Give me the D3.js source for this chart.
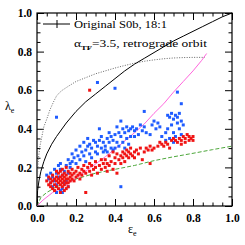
<!DOCTYPE html>
<html>
<head>
<meta charset="utf-8">
<script src="https://cdn.jsdelivr.net/npm/d3@7"></script>
<style>
  body { margin: 0; background: #fff; }
  svg { display: block; }
</style>
</head>
<body>
<div id="chart"></div>
<script>
'use strict';

// epsilon_e, lambda_e
var blue_pts = [
  [0.05,0.16],[0.06,0.14],[0.07,0.12],[0.08,0.15],[0.08,0.10],[0.09,0.13],[0.10,0.17],[0.10,0.11],
  [0.11,0.15],[0.11,0.21],[0.12,0.19],[0.12,0.22],[0.13,0.16],[0.13,0.09],[0.13,0.07],[0.14,0.12],
  [0.14,0.18],[0.15,0.21],[0.15,0.13],[0.16,0.10],[0.16,0.17],[0.17,0.20],[0.09,0.19],[0.07,0.17],
  [0.12,0.08],[0.10,0.07],
  [0.16,0.24],[0.17,0.22],[0.18,0.27],[0.18,0.23],[0.19,0.25],[0.20,0.29],[0.20,0.22],[0.21,0.26],
  [0.22,0.31],[0.22,0.24],[0.23,0.28],[0.24,0.33],[0.24,0.26],[0.25,0.29],[0.25,0.23],[0.26,0.35],
  [0.26,0.31],[0.27,0.27],[0.27,0.32],[0.28,0.30],[0.28,0.25],[0.29,0.34],[0.30,0.33],[0.30,0.28],
  [0.31,0.31],[0.31,0.27],[0.32,0.34],[0.32,0.40],[0.33,0.30],[0.33,0.36],[0.34,0.28],[0.34,0.33],
  [0.35,0.31],[0.35,0.29],[0.36,0.35],[0.36,0.28],[0.37,0.38],[0.37,0.33],[0.38,0.30],[0.38,0.36],
  [0.39,0.29],[0.39,0.34],[0.40,0.37],[0.40,0.30],[0.41,0.41],[0.41,0.33],[0.42,0.38],[0.42,0.31],
  [0.43,0.44],[0.43,0.36],[0.44,0.40],[0.44,0.33],[0.45,0.38],[0.45,0.30],[0.46,0.41],[0.46,0.35],
  [0.47,0.39],[0.47,0.32],[0.48,0.40],[0.48,0.36],[0.49,0.41],[0.50,0.39],[0.50,0.36],[0.51,0.40],
  [0.52,0.37],[0.53,0.42],[0.54,0.39],[0.55,0.49],[0.55,0.41],[0.56,0.38],[0.58,0.37],[0.59,0.42],
  [0.60,0.44],[0.61,0.40],[0.62,0.43],[0.63,0.41],[0.64,0.36],[0.66,0.38],[0.67,0.47],[0.67,0.40],
  [0.68,0.46],[0.68,0.35],[0.69,0.48],[0.69,0.42],[0.70,0.45],[0.70,0.38],[0.71,0.47],[0.71,0.36],
  [0.72,0.46],[0.72,0.43],[0.72,0.59],[0.73,0.48],[0.73,0.40],[0.74,0.53],[0.74,0.44],[0.74,0.37],
  [0.75,0.42],[0.70,0.33],[0.66,0.34],
  [0.10,0.46],[0.31,0.64],[0.40,0.61],[0.43,0.10]
];

var red_pts = [
  [0.05,0.13],[0.06,0.11],[0.06,0.15],[0.07,0.12],[0.07,0.14],[0.08,0.09],[0.08,0.13],[0.08,0.16],
  [0.09,0.11],[0.09,0.14],[0.10,0.10],[0.10,0.13],[0.10,0.15],[0.11,0.09],[0.11,0.12],[0.11,0.14],
  [0.11,0.17],[0.12,0.11],[0.12,0.13],[0.12,0.15],[0.12,0.18],[0.13,0.10],[0.13,0.12],[0.13,0.14],
  [0.13,0.16],[0.14,0.11],[0.14,0.13],[0.14,0.15],[0.14,0.17],[0.15,0.09],[0.15,0.12],[0.15,0.14],
  [0.15,0.16],[0.16,0.12],[0.16,0.14],[0.16,0.18],[0.17,0.13],[0.17,0.15],[0.17,0.17],[0.18,0.14],
  [0.18,0.16],[0.18,0.19],[0.19,0.13],[0.19,0.17],[0.20,0.15],[0.20,0.18],[0.21,0.16],[0.21,0.20],
  [0.22,0.14],[0.22,0.17],[0.23,0.19],[0.23,0.16],[0.24,0.21],[0.24,0.18],[0.09,0.08],[0.12,0.07],
  [0.14,0.08],[0.16,0.10],[0.10,0.18],[0.07,0.10],[0.15,0.20],[0.13,0.19],
  [0.25,0.07],[0.27,0.60],
  [0.25,0.17],[0.26,0.20],[0.27,0.22],[0.27,0.18],[0.28,0.16],[0.28,0.21],[0.29,0.19],[0.30,0.23],
  [0.30,0.20],[0.31,0.17],[0.32,0.21],[0.33,0.24],[0.33,0.19],[0.34,0.22],[0.35,0.20],[0.35,0.24],
  [0.36,0.22],[0.37,0.26],[0.37,0.21],[0.38,0.23],[0.39,0.19],[0.40,0.25],[0.40,0.22],[0.41,0.27],
  [0.41,0.17],[0.42,0.24],[0.43,0.26],[0.43,0.22],[0.44,0.28],[0.44,0.25],[0.45,0.27],[0.45,0.23],
  [0.46,0.29],[0.46,0.26],[0.47,0.28],[0.47,0.25],[0.48,0.27],[0.48,0.30],[0.49,0.26],[0.50,0.28],
  [0.50,0.25],[0.51,0.29],[0.52,0.27],[0.53,0.30],[0.55,0.28],[0.56,0.30],[0.57,0.29],[0.58,0.31],
  [0.58,0.22],[0.59,0.29],[0.60,0.30],[0.62,0.31],[0.63,0.33],[0.64,0.32],[0.65,0.31],[0.66,0.33],
  [0.67,0.32],[0.68,0.30],[0.69,0.34],[0.70,0.35],[0.71,0.34],[0.72,0.33],[0.73,0.35],[0.74,0.34],
  [0.75,0.36],[0.76,0.35],[0.77,0.37],[0.78,0.36],[0.79,0.35],[0.80,0.36],[0.78,0.34],[0.74,0.32],
  [0.76,0.33],[0.80,0.34],[0.54,0.24],[0.39,0.28],[0.36,0.18]
];

// reference curves
var black_curve = [
  [0,0],[0.003,0.08],[0.01,0.13],[0.02,0.18],[0.035,0.23],[0.05,0.27],[0.075,0.32],[0.1,0.36],
  [0.15,0.43],[0.2,0.49],[0.25,0.54],[0.3,0.58],[0.35,0.62],[0.4,0.66],[0.45,0.70],[0.5,0.735],
  [0.55,0.765],[0.6,0.795],[0.65,0.825],[0.7,0.855],[0.75,0.88],[0.8,0.905],[0.85,0.93],
  [0.9,0.955],[0.95,0.98],[1.0,1.0]
];
var dotted_curve = [
  [0.002,0.15],[0.005,0.22],[0.01,0.27],[0.015,0.31],[0.025,0.36],[0.035,0.41],[0.05,0.45],
  [0.067,0.50],[0.085,0.54],[0.1,0.57],[0.118,0.59],[0.13,0.60],[0.16,0.62],[0.2,0.645],
  [0.25,0.665],[0.3,0.685],[0.35,0.70],[0.4,0.715],[0.45,0.728],[0.5,0.74],[0.55,0.75],
  [0.6,0.757],[0.65,0.763],[0.7,0.767],[0.75,0.769],[0.8,0.77],[0.86,0.77]
];
var magenta_curve = [
  [0,0],[0.03,0.03],[0.08,0.07],[0.15,0.11],[0.2,0.145],[0.27,0.195],[0.35,0.255],[0.43,0.32],
  [0.5,0.38],[0.55,0.425],[0.6,0.48],[0.65,0.53],[0.7,0.59],[0.75,0.645],[0.8,0.70],
  [0.845,0.755],[0.87,0.79]
];
var green_curve = [
  [0,0],[0.02,0.045],[0.05,0.07],[0.1,0.1],[0.15,0.12],[0.2,0.14],[0.3,0.17],[0.4,0.19],
  [0.5,0.21],[0.6,0.235],[0.7,0.255],[0.8,0.273],[0.9,0.292],[1.0,0.31]
];

var major_ticks = [0, 0.2, 0.4, 0.6, 0.8, 1.0];
var minor_ticks = [0.05,0.1,0.15,0.25,0.3,0.35,0.45,0.5,0.55,0.65,0.7,0.75,0.85,0.9,0.95];

var W = 245, H = 245;
var svg = d3.select('#chart').append('svg').attr('width', W).attr('height', H);

var x = d3.scaleLinear().domain([0, 1]).range([37, 232]);
var y = d3.scaleLinear().domain([0, 1]).range([206, 13]);

var fmt = d3.format('.1f');
var tick_font = "'Liberation Serif', serif";

function add_axis(axis, tx, ty, labels) {
    var g = svg.append('g').attr('transform', 'translate(' + tx + ',' + ty + ')').call(axis);
    g.select('.domain').remove();
    g.selectAll('line').attr('stroke', '#000').attr('stroke-width', 1);
    if (!labels) g.selectAll('text').remove();
    else g.selectAll('text').attr('font-family', tick_font).attr('font-weight', 'bold')
        .attr('font-size', '11.5px').attr('fill', '#000');
    return g;
}

// major + minor ticks on all four sides, pointing inward
add_axis(d3.axisBottom(x).tickValues(major_ticks).tickSize(-7).tickPadding(8).tickFormat(fmt), 0, y(0), true);
add_axis(d3.axisBottom(x).tickValues(minor_ticks).tickSize(-3.5), 0, y(0), false);
add_axis(d3.axisTop(x).tickValues(major_ticks).tickSize(-7), 0, y(1), false);
add_axis(d3.axisTop(x).tickValues(minor_ticks).tickSize(-3.5), 0, y(1), false);
add_axis(d3.axisLeft(y).tickValues(major_ticks).tickSize(-7).tickPadding(5).tickFormat(fmt), x(0), 0, true);
add_axis(d3.axisLeft(y).tickValues(minor_ticks).tickSize(-3.5), x(0), 0, false);
add_axis(d3.axisRight(y).tickValues(major_ticks).tickSize(-7), x(1), 0, false);
add_axis(d3.axisRight(y).tickValues(minor_ticks).tickSize(-3.5), x(1), 0, false);

svg.append('rect')
    .attr('x', x(0)).attr('y', y(1))
    .attr('width', x(1) - x(0)).attr('height', y(0) - y(1))
    .attr('fill', 'none').attr('stroke', '#000').attr('stroke-width', 1.2);

var plot = svg.append('g');
var line = d3.line().x(function(d) { return x(d[0]); }).y(function(d) { return y(d[1]); });

plot.append('path').datum(dotted_curve).attr('d', line)
    .attr('fill', 'none').attr('stroke', '#666').attr('stroke-width', 1).attr('stroke-dasharray', '1,1.5');
plot.append('path').datum(green_curve).attr('d', line)
    .attr('fill', 'none').attr('stroke', '#4ea83c').attr('stroke-width', 1).attr('stroke-dasharray', '4,2');
plot.append('path').datum(magenta_curve).attr('d', line)
    .attr('fill', 'none').attr('stroke', '#ff66dd').attr('stroke-width', 1);

function draw_points(pts, clr) {
    plot.selectAll(null).data(pts).enter().append('rect')
        .attr('x', function(d) { return x(d[0]) - 1.5; })
        .attr('y', function(d) { return y(d[1]) - 1.5; })
        .attr('width', 3).attr('height', 3)
        .attr('fill', clr);
}
draw_points(blue_pts, '#1f5cff');
draw_points(red_pts, '#f01414');

plot.append('path').datum(black_curve).attr('d', line)
    .attr('fill', 'none').attr('stroke', '#000').attr('stroke-width', 1);

// legend
var lg = svg.append('g');
lg.append('line').attr('x1', 43).attr('x2', 70).attr('y1', 24).attr('y2', 24).attr('stroke', '#000');
lg.append('line').attr('x1', 57).attr('x2', 57).attr('y1', 20).attr('y2', 28).attr('stroke', '#000');
lg.append('text').attr('x', 74).attr('y', 28)
    .attr('font-family', tick_font).attr('font-size', '11px')
    .attr('textLength', 93).attr('lengthAdjust', 'spacingAndGlyphs')
    .text('Original S0b, 18:1');
var t2 = lg.append('text').attr('x', 74).attr('y', 47)
    .attr('font-family', tick_font).attr('font-size', '11px')
    .attr('textLength', 133).attr('lengthAdjust', 'spacingAndGlyphs');
t2.append('tspan').text('\u03b1');
t2.append('tspan').attr('dy', 3).attr('font-size', '7px').attr('font-weight', 'bold').text('TF');
t2.append('tspan').attr('dy', -3).text('=3.5, retrograde orbit');

// axis titles
var yl = svg.append('text').attr('x', 5).attr('y', 110)
    .attr('font-family', tick_font).attr('font-size', '12px');
yl.append('tspan').text('\u03bb');
yl.append('tspan').attr('dy', 3).attr('font-size', '8px').text('e');

var xl = svg.append('text').attr('x', 128).attr('y', 233)
    .attr('font-family', tick_font).attr('font-size', '12px');
xl.append('tspan').text('\u03b5');
xl.append('tspan').attr('dy', 3).attr('font-size', '8px').text('e');
</script>
</body>
</html>
